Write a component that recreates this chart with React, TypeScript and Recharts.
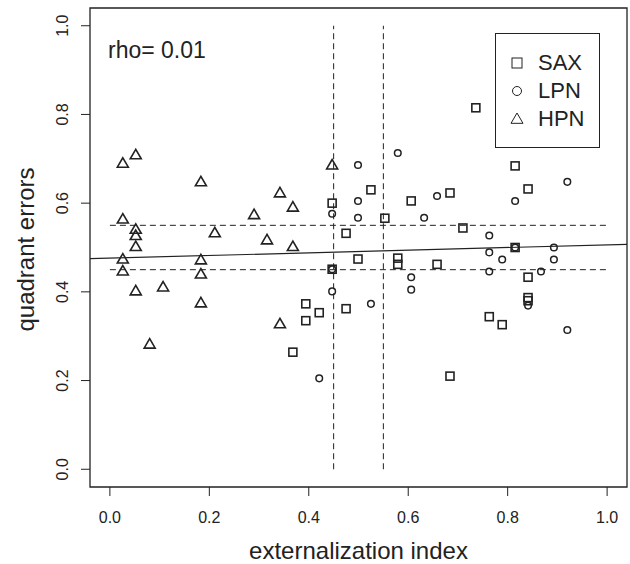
import React from 'react';
import {
  ScatterChart,
  Scatter,
  XAxis,
  YAxis,
  ReferenceLine,
  ReferenceArea,
} from 'recharts';

// points, [externalization index, quadrant error]
const saxPoints = [
  [0.736, 0.815], [0.815, 0.684], [0.525, 0.63], [0.841, 0.632], [0.684, 0.623],
  [0.606, 0.605], [0.447, 0.6], [0.553, 0.566], [0.475, 0.532], [0.71, 0.544],
  [0.815, 0.5], [0.499, 0.474], [0.579, 0.476], [0.579, 0.462], [0.658, 0.462],
  [0.447, 0.451], [0.841, 0.433], [0.841, 0.387], [0.394, 0.373], [0.421, 0.353],
  [0.394, 0.335], [0.475, 0.362], [0.841, 0.38], [0.763, 0.344], [0.789, 0.326],
  [0.368, 0.264], [0.684, 0.21],
];

const lpnPoints = [
  [0.579, 0.713], [0.499, 0.686], [0.92, 0.648], [0.658, 0.616], [0.499, 0.605],
  [0.815, 0.605], [0.447, 0.576], [0.499, 0.567], [0.632, 0.567], [0.763, 0.527],
  [0.815, 0.5], [0.893, 0.5], [0.763, 0.489], [0.789, 0.473], [0.893, 0.473],
  [0.447, 0.451], [0.763, 0.446], [0.867, 0.446], [0.606, 0.433], [0.606, 0.405],
  [0.447, 0.401], [0.525, 0.373], [0.841, 0.369], [0.92, 0.314], [0.421, 0.205],
];

const hpnPoints = [
  [0.026, 0.69], [0.052, 0.709], [0.026, 0.564], [0.052, 0.541], [0.052, 0.527],
  [0.052, 0.502], [0.026, 0.474], [0.026, 0.447], [0.052, 0.402], [0.107, 0.411],
  [0.08, 0.282], [0.183, 0.648], [0.183, 0.472], [0.183, 0.44], [0.183, 0.375],
  [0.211, 0.533], [0.29, 0.574], [0.316, 0.517], [0.342, 0.623], [0.368, 0.591],
  [0.368, 0.502], [0.342, 0.328], [0.447, 0.686],
];

const ticks = [0, 0.2, 0.4, 0.6, 0.8, 1.0];
const lowCut = 0.45;
const highCut = 0.55;
const fitIntercept = 0.476;
const fitSlope = 0.03;
const rhoText = 'rho= 0.01';

const FONT = '"Liberation Sans", Arial, sans-serif';
const INK = '#222';

const toRows = (pts: number[][]) => pts.map(([x, y]) => ({ x, y }));

const Square = ({ cx, cy, sw = 1.6, s = 8 }: any) => (
  <rect x={cx - s / 2} y={cy - s / 2} width={s} height={s} fill="none" stroke={INK} strokeWidth={sw} />
);
const Circle = ({ cx, cy, sw = 1.5, s = 6.6 }: any) => (
  <circle cx={cx} cy={cy} r={s / 2} fill="none" stroke={INK} strokeWidth={sw} />
);
const Triangle = ({ cx, cy, sw = 1.6, s = 11 }: any) => (
  <polygon
    points={`${cx},${cy - s / 2} ${cx - s / 2},${cy + s * 0.36} ${cx + s / 2},${cy + s * 0.36}`}
    fill="none"
    stroke={INK}
    strokeWidth={sw}
  />
);

const YTick = ({ y, payload }: any) => (
  <g transform={`translate(62, ${y}) rotate(-90)`}>
    <text x={0} y={0} dy={5.7} textAnchor="middle" fontSize={16} fill={INK} fontFamily={FONT}>
      {payload.value.toFixed(1)}
    </text>
  </g>
);

const LegendBox = () => {
  const items = [
    { name: 'SAX', Shape: Square, s: 10 },
    { name: 'LPN', Shape: Circle, s: 9 },
    { name: 'HPN', Shape: Triangle, s: 12 },
  ];
  return (
    <div
      style={{
        position: 'absolute',
        left: 495,
        top: 33,
        border: `1.3px solid ${INK}`,
        background: '#fff',
        width: 105,
        height: 115,
        boxSizing: 'border-box',
        paddingTop: 15,
      }}
    >
      {items.map(({ name, Shape, s }) => (
        <div key={name} style={{ display: 'flex', alignItems: 'center', height: 28 }}>
          <svg width={40} height={20} style={{ display: 'block' }}>
            <Shape cx={21} cy={10} sw={1} s={s} />
          </svg>
          <span style={{ fontFamily: FONT, fontSize: 22, color: INK, marginLeft: 2 }}>{name}</span>
        </div>
      ))}
    </div>
  );
};

export default function App() {
  return (
    <div style={{ position: 'absolute', left: 0, top: 0, width: 630, height: 564, background: '#fff' }}>
      <ScatterChart width={630} height={564} margin={{ top: 8, right: 3, left: 0, bottom: 0 }}>
        <XAxis
          type="number"
          dataKey="x"
          domain={[-0.04, 1.04]}
          ticks={ticks}
          tickFormatter={(v: number) => v.toFixed(1)}
          axisLine={false}
          tickLine={{ stroke: INK }}
          tickSize={9}
          tickMargin={16}
          height={77}
          tick={{ fontSize: 16, fill: INK, fontFamily: FONT }}
          allowDataOverflow
          label={{
            value: 'externalization index',
            position: 'insideBottom',
            offset: 5,
            fontSize: 24,
            fill: INK,
            fontFamily: FONT,
          }}
        />
        <YAxis
          type="number"
          dataKey="y"
          domain={[-0.04, 1.04]}
          ticks={ticks}
          axisLine={false}
          tickLine={{ stroke: INK }}
          tickSize={9}
          width={90}
          tick={<YTick />}
          allowDataOverflow
          label={{
            content: ({ viewBox }: any) => (
              <text
                transform={`translate(34, ${viewBox.y + viewBox.height / 2 + 2}) rotate(-90)`}
                textAnchor="middle"
                fontSize={24}
                fill={INK}
                fontFamily={FONT}
              >
                quadrant errors
              </text>
            ),
          }}
        />
        <ReferenceArea
          x1={-0.04}
          x2={1.04}
          y1={-0.04}
          y2={1.04}
          fill="none"
          stroke={INK}
          strokeWidth={1.3}
          fillOpacity={0}
          label={{
            content: ({ viewBox }: any) => (
              <text x={viewBox.x + 18} y={viewBox.y + 50} fontSize={23} fill={INK} fontFamily={FONT}>
                {rhoText}
              </text>
            ),
          }}
        />
        <ReferenceLine segment={[{ x: lowCut, y: 0 }, { x: lowCut, y: 1 }]} stroke={INK} strokeDasharray="6 4" />
        <ReferenceLine segment={[{ x: highCut, y: 0 }, { x: highCut, y: 1 }]} stroke={INK} strokeDasharray="6 4" />
        <ReferenceLine segment={[{ x: 0, y: lowCut }, { x: 1, y: lowCut }]} stroke={INK} strokeDasharray="6 4" />
        <ReferenceLine segment={[{ x: 0, y: highCut }, { x: 1, y: highCut }]} stroke={INK} strokeDasharray="6 4" />
        <ReferenceLine
          segment={[
            { x: -0.04, y: fitIntercept - 0.04 * fitSlope },
            { x: 1.04, y: fitIntercept + 1.04 * fitSlope },
          ]}
          stroke={INK}
          strokeWidth={1.2}
        />
        <Scatter name="SAX" data={toRows(saxPoints)} shape={<Square />} isAnimationActive={false} />
        <Scatter name="LPN" data={toRows(lpnPoints)} shape={<Circle />} isAnimationActive={false} />
        <Scatter name="HPN" data={toRows(hpnPoints)} shape={<Triangle />} isAnimationActive={false} />
      </ScatterChart>
      <LegendBox />
    </div>
  );
}
